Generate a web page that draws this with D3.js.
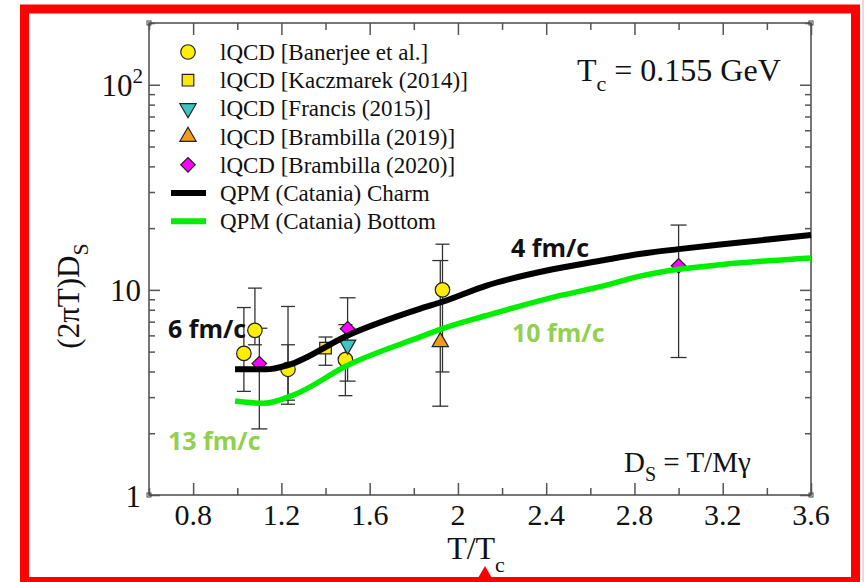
<!DOCTYPE html>
<html><head><meta charset="utf-8">
<script src="https://cdn.jsdelivr.net/npm/d3@7"></script>
<style>body{margin:0;background:#fff}svg{display:block}</style>
</head><body>
<svg id="c" width="867" height="582"></svg>
<script>
// ---- data ----
const curveT      = [0.99, 1.13, 1.23, 1.50, 1.83, 1.93, 2.13, 2.43, 2.65, 2.83, 3.00, 3.20, 3.60];
const charmDs     = [4.1, 4.1, 4.3, 6.0, 8.1, 8.75, 10.5, 12.6, 13.9, 15.0, 15.8, 16.7, 18.5];
const bottomT     = [0.99, 1.12, 1.26, 1.50, 1.83, 1.93, 2.13, 2.43, 2.65, 2.83, 3.00, 3.20, 3.60];
const bottomDs    = [2.87, 2.80, 3.09, 4.29, 5.9, 6.47, 7.5, 9.2, 10.4, 11.7, 12.6, 13.3, 14.3];

const banerjeeT   = [1.03, 1.08, 1.23, 1.49, 1.93];
const banerjeeV   = [4.9, 6.35, 4.1, 4.57, 10.0];
const banerjeeLo  = [3.2, 5.4, 2.77, 3.05, 3.98];
const banerjeeHi  = [8.2, 10.2, 8.3, 6.77, 16.7];
const kaczT = [1.40], kaczV = [5.2], kaczLo = [4.29], kaczHi = [5.89];
const francisT = [1.50], francisV = [5.4], francisLo = [5.0], francisHi = [5.8];
const bram19T = [1.92], bram19V = [5.57], bram19Lo = [2.71], bram19Hi = [13.9];
const bram20T = [1.10, 1.50, 3.00], bram20V = [4.37, 6.47, 13.1], bram20Lo = [2.1, 3.59, 4.68], bram20Hi = [6.5, 9.15, 20.7];
const extraErrT = [1.23], extraErrLo = [2.9], extraErrHi = [5.4];

const xMajor = [0.8, 1.2, 1.6, 2.0, 2.4, 2.8, 3.2, 3.6];
const xMajorLabels = ["0.8","1.2","1.6","2","2.4","2.8","3.2","3.6"];
const xMinor = [0.6, 1.0, 1.4, 1.8, 2.2, 2.6, 3.0, 3.4];
const yMajor = [1, 10, 100];
const yMinor = [2,3,4,5,6,7,8,9,20,30,40,50,60,70,80,90,200];

const legendLabels = ["lQCD [Banerjee et al.]","lQCD [Kaczmarek (2014)]","lQCD [Francis (2015)]","lQCD [Brambilla (2019)]","lQCD [Brambilla (2020)]","QPM (Catania) Charm","QPM (Catania) Bottom"];

// ---- drawing ----
const svg = d3.select("#c");
const serif = "'Liberation Serif','Times New Roman',serif";
const x = d3.scaleLinear().domain([0.6, 3.6]).range([149, 811]);
const y = d3.scaleLog().domain([1, 200]).range([495, 23]);
const L = 149, R = 811, T = 23, B = 495;
const axisColor = "#555";

// red frame
svg.append("rect").attr("x",24.5).attr("y",9).attr("width",831).attr("height",572.5)
  .attr("fill","none").attr("stroke","#ff0000").attr("stroke-width",9);
svg.append("line").attr("x1",863).attr("x2",863).attr("y1",0).attr("y2",582).attr("stroke","#f6b8b8").attr("stroke-width",1.2);
svg.append("path").attr("d","M478,578 L485,566 L492,578 Z").attr("fill","#ff0000");

// axes
function styleAxis(g){ g.select(".domain").remove(); g.selectAll("line").attr("stroke",axisColor).attr("stroke-width",1.5); }
svg.append("g").attr("transform",`translate(0,${B})`).call(d3.axisBottom(x).tickValues(xMajor).tickSize(-12).tickFormat("")).call(styleAxis);
svg.append("g").attr("transform",`translate(0,${B})`).call(d3.axisBottom(x).tickValues(xMinor).tickSize(-7).tickFormat("")).call(styleAxis);
svg.append("g").attr("transform",`translate(0,${T})`).call(d3.axisTop(x).tickValues(xMajor).tickSize(-12).tickFormat("")).call(styleAxis);
svg.append("g").attr("transform",`translate(0,${T})`).call(d3.axisTop(x).tickValues(xMinor).tickSize(-7).tickFormat("")).call(styleAxis);
svg.append("g").attr("transform",`translate(${L},0)`).call(d3.axisLeft(y).tickValues(yMajor).tickSize(-11).tickFormat("")).call(styleAxis);
svg.append("g").attr("transform",`translate(${L},0)`).call(d3.axisLeft(y).tickValues(yMinor).tickSize(-6).tickFormat("")).call(styleAxis);
svg.append("g").attr("transform",`translate(${R},0)`).call(d3.axisRight(y).tickValues(yMajor).tickSize(-11).tickFormat("")).call(styleAxis);
svg.append("g").attr("transform",`translate(${R},0)`).call(d3.axisRight(y).tickValues(yMinor).tickSize(-6).tickFormat("")).call(styleAxis);
svg.append("rect").attr("x",L).attr("y",T).attr("width",R-L).attr("height",B-T).attr("fill","none").attr("stroke",axisColor).attr("stroke-width",1.6);
[[L,T],[R,T],[L,B],[R,B]].forEach(p=>svg.append("rect").attr("x",p[0]-2).attr("y",p[1]-2).attr("width",4).attr("height",4).attr("fill","none").attr("stroke","#444").attr("stroke-width",1));

// tick labels
svg.append("g").selectAll("text").data(xMajor).join("text")
  .attr("x",d=>x(d)).attr("y",525).attr("text-anchor","middle")
  .attr("font-family",serif).attr("font-size",30).attr("fill","#111")
  .text((d,i)=>xMajorLabels[i]);
const yl = svg.append("g").attr("font-family",serif).attr("font-size",31).attr("fill","#111");
yl.append("text").attr("x",141).attr("y",y(1)+12).attr("text-anchor","end").text("1");
yl.append("text").attr("x",141).attr("y",y(10)+11).attr("text-anchor","end").text("10");
const t100 = yl.append("text").attr("x",143).attr("y",y(100)+11).attr("text-anchor","end");
t100.append("tspan").text("10");
t100.append("tspan").attr("font-size",21).attr("dy",-13).text("2");

// axis titles
const xt = svg.append("text").attr("x",476).attr("y",559).attr("text-anchor","middle")
  .attr("font-family",serif).attr("font-size",32).attr("fill","#111");
xt.append("tspan").text("T/T");
xt.append("tspan").attr("font-size",22).attr("dy",13).text("c");
const yt = svg.append("text").attr("transform","translate(79,296) rotate(-90)").attr("text-anchor","middle")
  .attr("font-family",serif).attr("font-size",31).attr("fill","#111");
yt.append("tspan").text("(2πT)D");
yt.append("tspan").attr("font-size",22).attr("dy",9).text("S");

// error bars
function errBars(ts, lo, hi, cap){
  const g = svg.append("g").attr("stroke","#333").attr("stroke-width",1.3);
  ts.forEach((t,i)=>{
    g.append("line").attr("x1",x(t)).attr("x2",x(t)).attr("y1",y(lo[i])).attr("y2",y(hi[i]));
    [lo[i],hi[i]].forEach(v=>g.append("line").attr("x1",x(t)-cap).attr("x2",x(t)+cap).attr("y1",y(v)).attr("y2",y(v)));
  });
}
errBars(banerjeeT, banerjeeLo, banerjeeHi, 7);
errBars(kaczT, kaczLo, kaczHi, 7);
errBars(bram19T, bram19Lo, bram19Hi, 8);
errBars(bram20T, bram20Lo, bram20Hi, 8);
errBars(extraErrT, extraErrLo, extraErrHi, 7);

// markers
const sym = {
  circle: d3.symbol().type(d3.symbolCircle).size(165),
  square: d3.symbol().type(d3.symbolSquare).size(135),
  tri: d3.symbol().type(d3.symbolTriangle).size(115),
  diamond: d3.symbol().type(d3.symbolSquare).size(105)
};
const styles = [
  {ts:banerjeeT, vs:banerjeeV, s:sym.circle, rot:0, fill:"#ffee00"},
  {ts:kaczT, vs:kaczV, s:sym.square, rot:0, fill:"#ffe600"},
  {ts:francisT, vs:francisV, s:sym.tri, rot:180, fill:"#3fc4c4"},
  {ts:bram19T, vs:bram19V, s:sym.tri, rot:0, fill:"#f39a1e"},
  {ts:bram20T, vs:bram20V, s:sym.diamond, rot:45, fill:"#ff00ff"}
];
styles.forEach(st=>{
  svg.append("g").selectAll("path").data(st.ts).join("path")
    .attr("d",st.s()).attr("transform",(t,i)=>`translate(${x(t)},${y(st.vs[i])}) rotate(${st.rot})`)
    .attr("fill",st.fill).attr("stroke","#222").attr("stroke-width",1.2);
});

// curves
const line = d3.line().x(d=>x(d[0])).y(d=>y(d[1])).curve(d3.curveMonotoneX);
svg.append("path").datum(bottomT.map((t,i)=>[t,bottomDs[i]])).attr("d",line)
  .attr("fill","none").attr("stroke","#00ee00").attr("stroke-width",5.5);
svg.append("path").datum(curveT.map((t,i)=>[t,charmDs[i]])).attr("d",line)
  .attr("fill","none").attr("stroke","#000").attr("stroke-width",6);

// legend
const lg = svg.append("g").attr("font-family",serif).attr("font-size",23).attr("fill","#111");
legendLabels.forEach((lab,i)=>{
  const yy = 52 + i*28.2;
  lg.append("text").attr("x",220).attr("y",yy+8).text(lab);
  if(i<5){
    const st = styles[i];
    lg.append("path").attr("d",st.s()).attr("transform",`translate(188,${yy}) rotate(${st.rot})`)
      .attr("fill",st.fill).attr("stroke","#222").attr("stroke-width",1.2);
  } else {
    lg.append("line").attr("x1",171).attr("x2",206).attr("y1",yy).attr("y2",yy)
      .attr("stroke", i===5 ? "#000" : "#00ee00").attr("stroke-width",6);
  }
});

// annotations
const sans = "'Open Sans','Lato',sans-serif";
function ann(txt, xx, yy, col){
  svg.append("text").attr("x",xx).attr("y",yy).attr("font-family",sans).attr("font-weight",700)
    .attr("font-size",25).attr("fill",col).text(txt);
}
ann("6 fm/c", 168, 338, "#111");
ann("13 fm/c", 168, 450, "#92d050");
ann("4 fm/c", 511, 257, "#111");
ann("10 fm/c", 512, 342, "#92d050");

const tc = svg.append("text").attr("x",577).attr("y",81).attr("font-family",serif).attr("font-size",32).attr("fill","#111");
tc.append("tspan").text("T");
tc.append("tspan").attr("font-size",22).attr("dy",10).text("c");
tc.append("tspan").attr("dy",-10).text(" = 0.155 GeV");
const ds = svg.append("text").attr("x",624).attr("y",472).attr("font-family",serif).attr("font-size",29).attr("fill","#111");
ds.append("tspan").text("D");
ds.append("tspan").attr("font-size",20).attr("dy",9).text("S");
ds.append("tspan").attr("dy",-9).text(" = T/Mγ");
</script>
</body></html>
